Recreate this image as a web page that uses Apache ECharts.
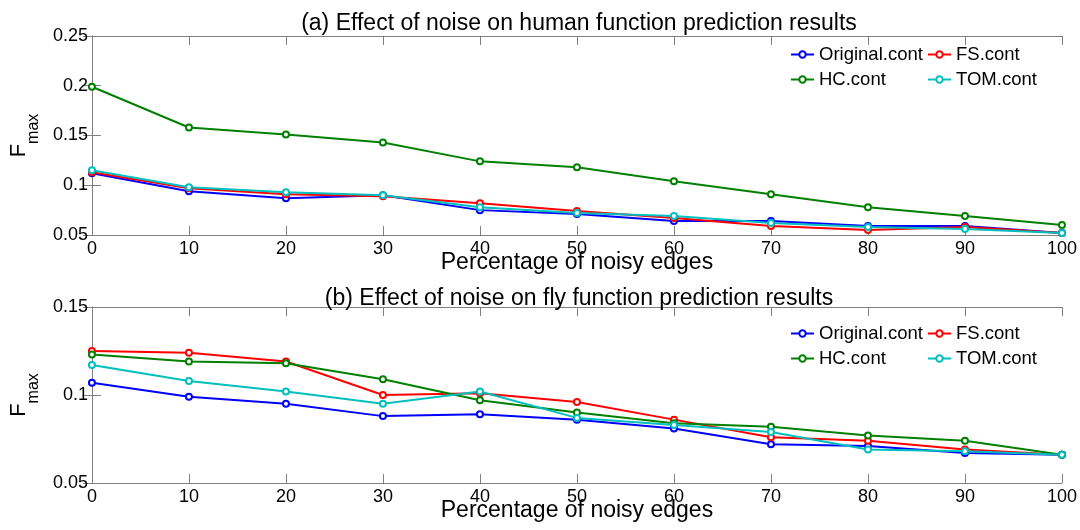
<!DOCTYPE html>
<html>
<head>
<meta charset="utf-8">
<script src="https://cdn.jsdelivr.net/npm/echarts@6/dist/echarts.min.js"></script>
<style>
  html, body { margin: 0; padding: 0; background: #fff; }
  #chart { width: 1080px; height: 530px; }
</style>
</head>
<body>
<div id="chart"></div>
<script>
// data
const noiseLevels = [0, 10, 20, 30, 40, 50, 60, 70, 80, 90, 100];
const seriesNames = ['Original.cont', 'FS.cont', 'HC.cont', 'TOM.cont'];
const seriesColors = ['#0000ff', '#ff0000', '#008000', '#00bfbf'];

// (a) human
const humanOriginal = [0.112, 0.094, 0.087, 0.090, 0.075, 0.071, 0.064, 0.064, 0.059, 0.059, 0.052];
const humanFS = [0.113, 0.097, 0.091, 0.089, 0.082, 0.074, 0.067, 0.059, 0.055, 0.058, 0.052];
const humanHC = [0.199, 0.158, 0.151, 0.143, 0.124, 0.118, 0.104, 0.091, 0.078, 0.069, 0.060];
const humanTOM = [0.115, 0.098, 0.093, 0.090, 0.078, 0.072, 0.069, 0.062, 0.058, 0.056, 0.052];

// (b) fly
const flyOriginal = [0.107, 0.099, 0.095, 0.088, 0.089, 0.086, 0.081, 0.072, 0.071, 0.067, 0.066];
const flyFS = [0.125, 0.124, 0.119, 0.100, 0.101, 0.096, 0.086, 0.076, 0.074, 0.069, 0.066];
const flyHC = [0.123, 0.119, 0.118, 0.109, 0.097, 0.090, 0.084, 0.082, 0.077, 0.074, 0.066];
const flyTOM = [0.117, 0.108, 0.102, 0.095, 0.102, 0.087, 0.083, 0.079, 0.069, 0.068, 0.066];

const titles = [
  '(a) Effect of noise on human function prediction results',
  '(b) Effect of noise on fly function prediction results'
];
const xName = 'Percentage of noisy edges';

const FONT = 'Liberation Sans';
const frameColor = '#808080';

const chart = echarts.init(document.getElementById('chart'));

function frameAxis(extra) {
  return Object.assign({
    axisLine: { show: true, lineStyle: { color: frameColor, width: 1 } },
    axisTick: { show: true, inside: true, length: 9, lineStyle: { color: frameColor } },
    splitLine: { show: false },
    axisLabel: { show: false }
  }, extra);
}

function xAxes(grid) {
  return [
    frameAxis({
      type: 'value', gridIndex: grid, min: 0, max: 100, interval: 10, position: 'bottom',
      axisLabel: { show: true, color: '#000', fontSize: 18, fontFamily: FONT, margin: 5 },
      name: xName, nameLocation: 'middle', nameGap: 16, nameMoveOverlap: false,
      nameTextStyle: { color: '#000', fontSize: 23, fontFamily: FONT }
    }),
    frameAxis({ type: 'value', gridIndex: grid, min: 0, max: 100, interval: 10, position: 'top' })
  ];
}

function yAxes(grid, min, max) {
  return [
    frameAxis({
      type: 'value', gridIndex: grid, min: min, max: max, interval: 0.05, position: 'left',
      axisLabel: { show: true, color: '#000', fontSize: 18, fontFamily: FONT, margin: 4 },
      name: '{f|F}{s|max}', nameLocation: 'middle', nameRotate: 90, nameGap: 42,
      nameTextStyle: {
        color: '#000', fontFamily: FONT,
        rich: {
          f: { fontSize: 22, fontFamily: FONT, color: '#000', lineHeight: 34, verticalAlign: 'top' },
          s: { fontSize: 16, fontFamily: FONT, color: '#000', lineHeight: 34, verticalAlign: 'bottom' }
        }
      }
    }),
    frameAxis({ type: 'value', gridIndex: grid, min: min, max: max, interval: 0.05, position: 'right' })
  ];
}

function pairs(values) {
  return noiseLevels.map((x, i) => [x, values[i]]);
}

function lineSeries(name, color, values, grid) {
  return {
    name: name,
    type: 'line',
    xAxisIndex: grid * 2,
    yAxisIndex: grid * 2,
    data: pairs(values),
    symbol: 'emptyCircle',
    symbolSize: 6,
    lineStyle: { color: color, width: 2 },
    itemStyle: { color: color, borderWidth: 2 },
    animation: false
  };
}

function legends(top) {
  const base = {
    orient: 'vertical', top: top, itemWidth: 23, itemHeight: 8, itemGap: 6, padding: 0,
    textStyle: { color: '#000', fontSize: 18.5, fontFamily: FONT }
  };
  return [
    Object.assign({}, base, { left: 790, data: ['Original.cont', 'HC.cont'] }),
    Object.assign({}, base, { left: 927, data: ['FS.cont', 'TOM.cont'] })
  ];
}

const humanData = [humanOriginal, humanFS, humanHC, humanTOM];
const flyData = [flyOriginal, flyFS, flyHC, flyTOM];

const titleStyle = { color: '#000', fontSize: 23, fontWeight: 'normal', fontFamily: FONT };

const option = {
  backgroundColor: '#fff',
  animation: false,
  title: [
    { text: titles[0], left: 574, top: 7, textAlign: 'center', textStyle: titleStyle },
    { text: titles[1], left: 574, top: 282, textAlign: 'center', textStyle: titleStyle }
  ],
  legend: legends(45).concat(legends(324)),
  grid: [
    { left: 85, top: 36, width: 977, height: 199 },
    { left: 85, top: 307, width: 977, height: 176 }
  ],
  xAxis: xAxes(0).concat(xAxes(1)),
  yAxis: yAxes(0, 0.05, 0.25).concat(yAxes(1, 0.05, 0.15)),
  series: seriesNames.map((n, i) => lineSeries(n, seriesColors[i], humanData[i], 0))
    .concat(seriesNames.map((n, i) => lineSeries(n, seriesColors[i], flyData[i], 1)))
};

chart.setOption(option);
</script>
</body>
</html>
